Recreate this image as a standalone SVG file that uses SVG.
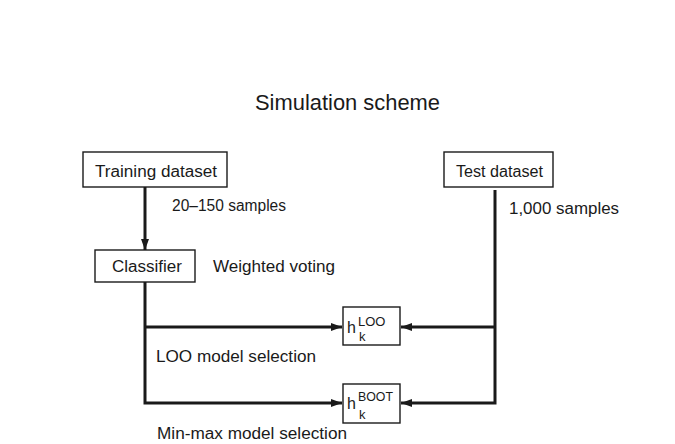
<svg xmlns="http://www.w3.org/2000/svg" width="675" height="444" viewBox="0 0 675 444">
  <style>
    text { font-family: "Liberation Sans", Arial, sans-serif; fill: #1a1a1a; }
    .box { fill: #ffffff; stroke: #1a1a1a; stroke-width: 1.4; }
    .lbl { font-size: 16px; }
    .title { font-size: 21.5px; }
    .wire { fill: none; stroke: #1a1a1a; stroke-width: 3; }
    .sup { font-size: 13px; }
  </style>
  <defs>
    <marker id="arrow" viewBox="0 0 11 8" refX="11" refY="4" markerWidth="11" markerHeight="8" markerUnits="userSpaceOnUse" orient="auto">
      <path d="M0,0 L11,4 L0,8 Z" fill="#1a1a1a"/>
    </marker>
  </defs>
  <rect width="675" height="444" fill="#ffffff"/>

  <text class="title" x="255" y="110" textLength="185" lengthAdjust="spacingAndGlyphs">Simulation scheme</text>

  <!-- connectors -->
  <g id="connectors">
    <line class="wire" x1="145" y1="187" x2="145" y2="250" marker-end="url(#arrow)"/>
    <path class="wire" d="M145,282 V403 H342" marker-end="url(#arrow)"/>
    <line class="wire" x1="145" y1="327" x2="342" y2="327" marker-end="url(#arrow)"/>
    <path class="wire" d="M495,190 V403 H401" marker-end="url(#arrow)"/>
    <line class="wire" x1="495" y1="327" x2="401" y2="327" marker-end="url(#arrow)"/>
  </g>

  <!-- edge labels -->
  <text class="lbl" x="172" y="211" textLength="114" lengthAdjust="spacingAndGlyphs">20–150 samples</text>
  <text class="lbl" x="509" y="214" textLength="110" lengthAdjust="spacingAndGlyphs">1,000 samples</text>
  <text class="lbl" x="213" y="272" textLength="122" lengthAdjust="spacingAndGlyphs">Weighted voting</text>
  <text class="lbl" x="156" y="362" textLength="160" lengthAdjust="spacingAndGlyphs">LOO model selection</text>
  <text class="lbl" x="157" y="439" textLength="190" lengthAdjust="spacingAndGlyphs">Min-max model selection</text>

  <g id="training">
    <rect class="box" x="83" y="152" width="144" height="35"/>
    <text class="lbl" x="95" y="177" textLength="122" lengthAdjust="spacingAndGlyphs">Training dataset</text>
  </g>

  <g id="test">
    <rect class="box" x="444" y="152" width="109" height="35"/>
    <text class="lbl" x="456" y="177" textLength="87" lengthAdjust="spacingAndGlyphs">Test dataset</text>
  </g>

  <g id="classifier">
    <rect class="box" x="95" y="250" width="100" height="32"/>
    <text class="lbl" x="112" y="272" textLength="70" lengthAdjust="spacingAndGlyphs">Classifier</text>
  </g>

  <g id="h-loo">
    <rect class="box" x="343" y="307" width="57" height="38"/>
    <text class="lbl" x="347" y="333">h</text>
    <text class="sup" x="358" y="326">LOO</text>
    <text class="sup" x="359" y="341">k</text>
  </g>

  <g id="h-boot">
    <rect class="box" x="343" y="384" width="57" height="39"/>
    <text class="lbl" x="347" y="409">h</text>
    <text class="sup" x="358" y="401" textLength="35" lengthAdjust="spacingAndGlyphs">BOOT</text>
    <text class="sup" x="359" y="419">k</text>
  </g>
</svg>
